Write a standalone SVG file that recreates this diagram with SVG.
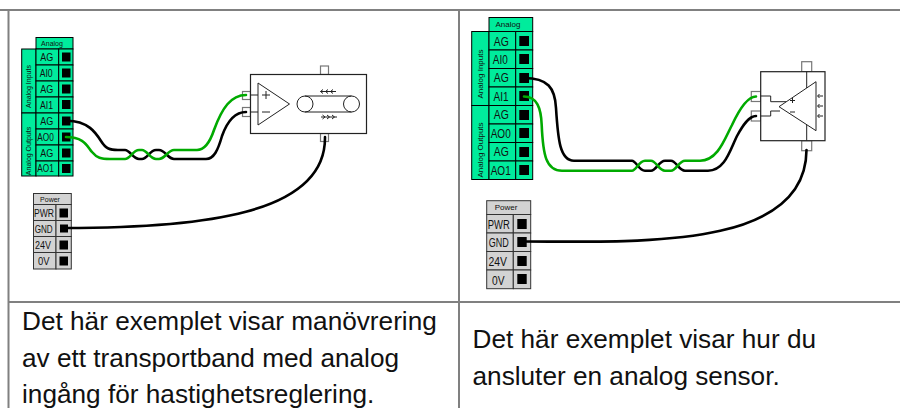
<svg xmlns="http://www.w3.org/2000/svg" width="900" height="408" viewBox="0 0 900 408">
<defs>
<style>
.cell{stroke:#000;stroke-width:1}
.g{fill:#00ec9c}
.p{fill:#d3d3d3;stroke:#333}
.sq{fill:#000}
.t{font-family:"Liberation Sans",Arial,sans-serif;fill:#111;text-anchor:middle}
.s{font-size:10px}
.l{font-size:12px}
.h{font-size:7px}
.m{font-size:8px}
.cap{font-family:"Liberation Sans",Arial,sans-serif;font-size:26.2px;fill:#111}
.grid{stroke:#808080;stroke-width:2;fill:none}
.dev{fill:#fff;stroke:#222;stroke-width:1.2}
.tab{fill:#fff;stroke:#777;stroke-width:1.2}
.sym{fill:none;stroke:#222;stroke-width:1}
.wk{fill:none;stroke:#000;stroke-width:2.6;stroke-linecap:round}
.wg{fill:none;stroke:#0a0;stroke-width:2.6;stroke-linecap:round}
</style>
</defs>
<rect width="900" height="408" fill="#fff"/>
<g id="grid">
<path class="grid" d="M0,10H900M8.500,10V408M459,10V408M8.500,302H900"/>
</g>
<g id="analog-left">
<rect class="cell g" x="36" y="37.500" width="37" height="11.500"/>
<rect class="cell g" x="21.700" y="49" width="14.300" height="64"/>
<rect class="cell g" x="21.700" y="113" width="14.300" height="63"/>
<g class="cell g">
<rect x="36" y="49" width="22.700" height="16"/><rect x="58.700" y="49" width="14.300" height="16"/>
<rect x="36" y="65" width="22.700" height="16"/><rect x="58.700" y="65" width="14.300" height="16"/>
<rect x="36" y="81" width="22.700" height="16"/><rect x="58.700" y="81" width="14.300" height="16"/>
<rect x="36" y="97" width="22.700" height="16"/><rect x="58.700" y="97" width="14.300" height="16"/>
<rect x="36" y="113" width="22.700" height="16"/><rect x="58.700" y="113" width="14.300" height="16"/>
<rect x="36" y="129" width="22.700" height="16"/><rect x="58.700" y="129" width="14.300" height="16"/>
<rect x="36" y="145" width="22.700" height="16"/><rect x="58.700" y="145" width="14.300" height="16"/>
<rect x="36" y="161" width="22.700" height="15"/><rect x="58.700" y="161" width="14.300" height="15"/>
</g>
<g class="sq">
<rect x="62" y="52.500" width="8.500" height="9"/><rect x="62" y="68.500" width="8.500" height="9"/><rect x="62" y="84.500" width="8.500" height="9"/><rect x="62" y="100" width="8.500" height="9"/>
<rect x="62" y="116.500" width="8.500" height="9"/><rect x="62" y="132.500" width="8.500" height="9"/><rect x="62" y="148.500" width="8.500" height="9"/><rect x="62" y="164" width="8.500" height="9"/>
</g>
<text class="t h" x="52" y="45.500">Analog</text>
<g class="t s"><text x="46.700" y="61" textLength="13" lengthAdjust="spacingAndGlyphs">AG</text><text x="46.200" y="77" textLength="13" lengthAdjust="spacingAndGlyphs">AI0</text><text x="46.700" y="93" textLength="13" lengthAdjust="spacingAndGlyphs">AG</text><text x="46.500" y="108.500" textLength="13" lengthAdjust="spacingAndGlyphs">AI1</text><text x="46.700" y="124.500" textLength="13" lengthAdjust="spacingAndGlyphs">AG</text><text x="45.500" y="140.500" textLength="16.500" lengthAdjust="spacingAndGlyphs">AO0</text><text x="46.700" y="156.500" textLength="13" lengthAdjust="spacingAndGlyphs">AG</text><text x="45.500" y="172" textLength="16.500" lengthAdjust="spacingAndGlyphs">AO1</text></g>
<text class="t h" transform="translate(31 86.500) rotate(-90)">Analog Inputs</text>
<text class="t h" transform="translate(31 151) rotate(-90)">Analog Outputs</text>
</g>
<g id="power-left">
<rect class="cell p" x="33.500" y="193.500" width="37.800" height="11"/>
<g class="cell p">
<rect x="33.500" y="204.500" width="22.500" height="16"/><rect x="56" y="204.500" width="15.300" height="16"/>
<rect x="33.500" y="220.500" width="22.500" height="16"/><rect x="56" y="220.500" width="15.300" height="16"/>
<rect x="33.500" y="236.500" width="22.500" height="16"/><rect x="56" y="236.500" width="15.300" height="16"/>
<rect x="33.500" y="252.500" width="22.500" height="16.500"/><rect x="56" y="252.500" width="15.300" height="16.500"/>
</g>
<g class="sq"><rect x="59.500" y="208.500" width="8.500" height="9"/><rect x="60" y="224.500" width="8" height="8"/><rect x="59.500" y="240.500" width="8.500" height="9"/><rect x="59.500" y="256.500" width="8.500" height="9"/></g>
<text class="t h" x="50" y="201.500">Power</text>
<g class="t s"><text x="44" y="217" textLength="20" lengthAdjust="spacingAndGlyphs">PWR</text><text x="43.700" y="233" textLength="18" lengthAdjust="spacingAndGlyphs">GND</text><text x="43" y="249" textLength="16" lengthAdjust="spacingAndGlyphs">24V</text><text x="43.700" y="265" textLength="11.500" lengthAdjust="spacingAndGlyphs">0V</text></g>
</g>
<g id="conveyor">
<rect class="tab" x="320.500" y="66" width="8" height="8.500"/>
<rect class="tab" x="320.500" y="133.500" width="8" height="8"/>
<rect class="tab" x="242.500" y="91.500" width="8" height="8"/>
<rect class="tab" x="242.500" y="107.500" width="8" height="9"/>
<rect class="dev" x="250.500" y="74.500" width="116" height="59"/>
<path class="sym" d="M250.500,95H258M250.500,112H258M258,83V125L289.500,104ZM262,95H270M266,91V99M262,112H270"/>
<circle class="sym" cx="305" cy="104" r="8"/><circle class="sym" cx="351.500" cy="104" r="8"/>
<path class="sym" d="M305,96H351.500M305,112H351.500"/>
<path class="sym" d="M320.500,91.500H336M323,89.500L320.500,91.500L323,93.500M328,89.500L325.500,91.500L328,93.500M333,89.500L330.500,91.500L333,93.500M321,117H337M327,115L329.500,117L327,119M332,115L334.500,117L332,119M322.500,115L325,117L322.500,119"/>
</g>
<g id="analog-right">
<rect class="cell g" x="489" y="17.500" width="43.700" height="14"/>
<rect class="cell g" x="471.700" y="31.500" width="17.300" height="74"/>
<rect class="cell g" x="471.700" y="105.500" width="17.300" height="74"/>
<g class="cell g">
<rect x="489" y="31.500" width="26.700" height="18.500"/><rect x="515.700" y="31.500" width="17" height="18.500"/>
<rect x="489" y="50" width="26.700" height="18.500"/><rect x="515.700" y="50" width="17" height="18.500"/>
<rect x="489" y="68.500" width="26.700" height="18.500"/><rect x="515.700" y="68.500" width="17" height="18.500"/>
<rect x="489" y="87" width="26.700" height="18.500"/><rect x="515.700" y="87" width="17" height="18.500"/>
<rect x="489" y="105.500" width="26.700" height="18.500"/><rect x="515.700" y="105.500" width="17" height="18.500"/>
<rect x="489" y="124" width="26.700" height="18.500"/><rect x="515.700" y="124" width="17" height="18.500"/>
<rect x="489" y="142.500" width="26.700" height="18.500"/><rect x="515.700" y="142.500" width="17" height="18.500"/>
<rect x="489" y="161" width="26.700" height="18.500"/><rect x="515.700" y="161" width="17" height="18.500"/>
</g>
<g class="sq">
<rect x="519.300" y="36" width="9.700" height="10"/><rect x="519.300" y="54" width="9.700" height="10"/><rect x="519.300" y="73" width="9.700" height="10"/><rect x="519.300" y="91" width="9.700" height="10"/>
<rect x="519.300" y="110" width="9.700" height="10"/><rect x="519.300" y="128" width="9.700" height="10"/><rect x="519.300" y="147" width="9.700" height="10"/><rect x="519.300" y="165" width="9.700" height="10"/>
</g>
<text class="t m" x="508" y="27">Analog</text>
<g class="t l"><text x="501.300" y="45.500" textLength="15" lengthAdjust="spacingAndGlyphs">AG</text><text x="500.300" y="63.500" textLength="15" lengthAdjust="spacingAndGlyphs">AI0</text><text x="501.300" y="82" textLength="15" lengthAdjust="spacingAndGlyphs">AG</text><text x="501" y="100.500" textLength="15" lengthAdjust="spacingAndGlyphs">AI1</text><text x="501.300" y="119" textLength="15" lengthAdjust="spacingAndGlyphs">AG</text><text x="500.700" y="137.500" textLength="20" lengthAdjust="spacingAndGlyphs">AO0</text><text x="501.300" y="156" textLength="15" lengthAdjust="spacingAndGlyphs">AG</text><text x="500.700" y="174.500" textLength="20" lengthAdjust="spacingAndGlyphs">AO1</text></g>
<text class="t m" transform="translate(483 74) rotate(-90)">Analog Inputs</text>
<text class="t m" transform="translate(483 150) rotate(-90)">Analog Outputs</text>
</g>
<g id="power-right">
<rect class="cell p" x="486.700" y="200.700" width="44" height="13.800"/>
<g class="cell p">
<rect x="486.700" y="214.500" width="26.600" height="18.500"/><rect x="513.300" y="214.500" width="17.400" height="18.500"/>
<rect x="486.700" y="233" width="26.600" height="18.500"/><rect x="513.300" y="233" width="17.400" height="18.500"/>
<rect x="486.700" y="251.500" width="26.600" height="18.500"/><rect x="513.300" y="251.500" width="17.400" height="18.500"/>
<rect x="486.700" y="270" width="26.600" height="18.700"/><rect x="513.300" y="270" width="17.400" height="18.700"/>
</g>
<g class="sq"><rect x="517.300" y="219" width="9.400" height="10"/><rect x="517.300" y="237" width="9.400" height="10"/><rect x="517.300" y="256" width="9.400" height="10"/><rect x="517.300" y="274" width="9.400" height="10"/></g>
<text class="t m" x="506" y="210">Power</text>
<g class="t l"><text x="498.700" y="229" textLength="22" lengthAdjust="spacingAndGlyphs">PWR</text><text x="498.700" y="247" textLength="20" lengthAdjust="spacingAndGlyphs">GND</text><text x="497.800" y="266" textLength="18.500" lengthAdjust="spacingAndGlyphs">24V</text><text x="498.300" y="284.500" textLength="12.500" lengthAdjust="spacingAndGlyphs">0V</text></g>
</g>
<g id="sensor">
<rect class="tab" x="801.700" y="61.700" width="10" height="10"/>
<rect class="tab" x="801.700" y="140.700" width="10" height="10"/>
<rect class="tab" x="751.300" y="91.500" width="9.400" height="10"/>
<rect class="tab" x="751.300" y="111" width="9.400" height="10"/>
<rect class="dev" x="760.700" y="71.700" width="64.300" height="69" stroke="#444"/>
<path class="sym" d="M806.700,71.700V88M806.700,124V140.700M760.700,96H770.700V101.700H786M760.700,116H770.700V111H780"/>
<path d="M779,106.700L816,81.700V130.700Z" fill="#fff" stroke="#222"/>
<path class="sym" d="M790,100.500H795M792.500,98V103M790,112H795M818,96H823M819.500,94L817.500,96L819.500,98M818,106H823M819.500,104L817.500,106L819.500,108M818,116H823M819.500,114L817.500,116L819.500,118"/>
</g>
<g id="connectors">
<path class="wk" d="M67,120.700C88,120.700 96,133 101,141C106,149 110,150 118,150H125C130,150 133,159 139,159H142C147,159 150,150 156,150H159C165,150 168,159 174,159H206C214,159 218,150 222,136C227,122 234,112 246,112"/>
<path class="wg" d="M66,137C84,137 87,146 92,152C97,158 101,159 110,159H125C130,159 133,150 139,150H142C147,150 150,159 156,159H159C165,159 168,150 174,150H197C205,150 210,142 214,130C222,108 231,95 246,95"/>
<path class="wk" d="M64,228C200,228 326,215 325,137"/>
<path class="wk" d="M524,78C548,78 555,88 556,108C558,140 560,160.700 574,160.700H632C636,160.700 639,170.700 645,170.700H651C656,170.700 659,160.700 665,160.700H671C676,160.700 679,170.700 685,170.700H708C725,170.700 730,150 737,136C743,125 749,116 756,116"/>
<path class="wg" d="M524,96.500C537,96.500 541,108 541.700,125C543,155 546,170.700 562,170.700H632C636,170.700 639,160.700 645,160.700H651C656,160.700 659,170.700 665,170.700H671C676,170.700 679,160.700 685,160.700H700C718,160.700 725,138 732,125C739,110 747,96.500 756,96.500"/>
<path class="wk" d="M524,241.500C640,241.500 806,250 806.500,150"/>
</g>
<g id="captions" class="cap">
<text x="22" y="330">Det här exemplet visar manövrering</text>
<text x="22" y="366.500">av ett transportband med analog</text>
<text x="22" y="403">ingång för hastighetsreglering.</text>
<text x="472.500" y="348">Det här exemplet visar hur du</text>
<text x="472.500" y="384.500">ansluter en analog sensor.</text>
</g>
</svg>
